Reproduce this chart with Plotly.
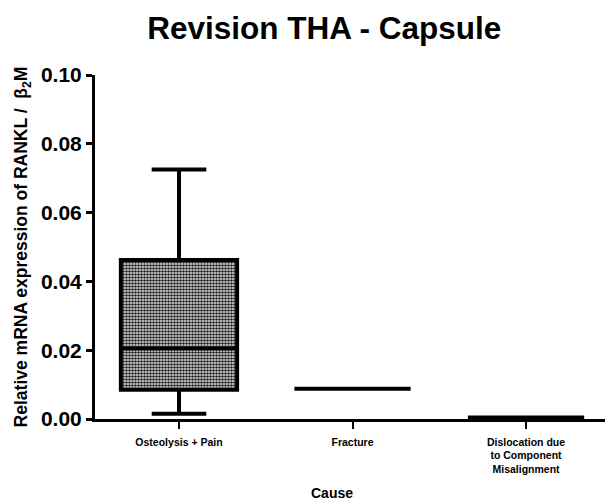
import plotly.graph_objects as go

# Box summaries per cause of revision
causes = ["Osteolysis + Pain", "Fracture", "Dislocation due<br>to Component<br>Misalignment"]
lower = [0.0015, 0.0088, 0.0004]
q1 = [0.0085, 0.0088, 0.0004]
median = [0.0205, 0.0088, 0.0004]
q3 = [0.0462, 0.0088, 0.0004]
upper = [0.0725, 0.0088, 0.0004]

positions = list(range(len(causes)))
FONT = "Arial, Liberation Sans, sans-serif"

fig = go.Figure()

# Textured fill for the interquartile range
fig.add_trace(go.Bar(
    x=positions, y=[b - a for a, b in zip(q1, q3)], base=q1, width=0.67,
    marker=dict(color="#9a9a9a", line=dict(width=0),
                pattern=dict(shape=".", size=3, solidity=0.6,
                             fgcolor="#202020", bgcolor="#f4f4f4", fillmode="replace")),
    hoverinfo="skip", showlegend=False,
))

fig.add_trace(go.Box(
    x=positions, q1=q1, median=median, q3=q3,
    lowerfence=lower, upperfence=upper,
    width=0.67, whiskerwidth=0.47,
    fillcolor="rgba(0,0,0,0)",
    line=dict(color="black", width=4),
    boxpoints=False, showlegend=False, hoverinfo="skip",
))

fig.update_layout(
    width=605, height=501,
    margin=dict(l=95, r=0, t=75, b=82),
    paper_bgcolor="white", plot_bgcolor="white",
    font=dict(family=FONT, color="black"),
    title=dict(text="<b>Revision THA - Capsule</b>", x=0.536, xanchor="center",
               y=0.945, yanchor="middle", font=dict(size=31.5, family=FONT)),
    bargap=0,
    xaxis=dict(
        range=[-0.484, 2.455], tickmode="array", tickvals=positions,
        ticktext=[f"<b>{c}</b>" for c in causes],
        tickfont=dict(size=10.5, family=FONT), showgrid=False, zeroline=False,
        showline=True, linecolor="black", linewidth=3,
        ticks="outside", ticklen=7, tickwidth=2, tickcolor="black",
        ticklabelstandoff=4, automargin=False,
    ),
    yaxis=dict(
        range=[0, 0.10], tickmode="array", tickvals=[0, 0.02, 0.04, 0.06, 0.08, 0.10],
        ticktext=["<b>0.00</b>", "<b>0.02</b>", "<b>0.04</b>", "<b>0.06</b>", "<b>0.08</b>", "<b>0.10</b>"],
        tickfont=dict(size=21, family=FONT), showgrid=False, zeroline=False,
        showline=True, linecolor="black", linewidth=3,
        ticks="outside", ticklen=6, tickwidth=3, tickcolor="black",
        automargin=False,
        title=dict(text="<b>Relative mRNA expression of RANKL /  β<sub>2</sub>M</b>",
                   font=dict(size=17.5, family=FONT), standoff=9),
    ),
    annotations=[dict(
        text="<b>Cause</b>", xref="paper", yref="paper", x=0.464, y=-0.215,
        xanchor="center", yanchor="middle", showarrow=False,
        font=dict(size=14, family=FONT),
    )],
)

fig.write_html("out.html")
